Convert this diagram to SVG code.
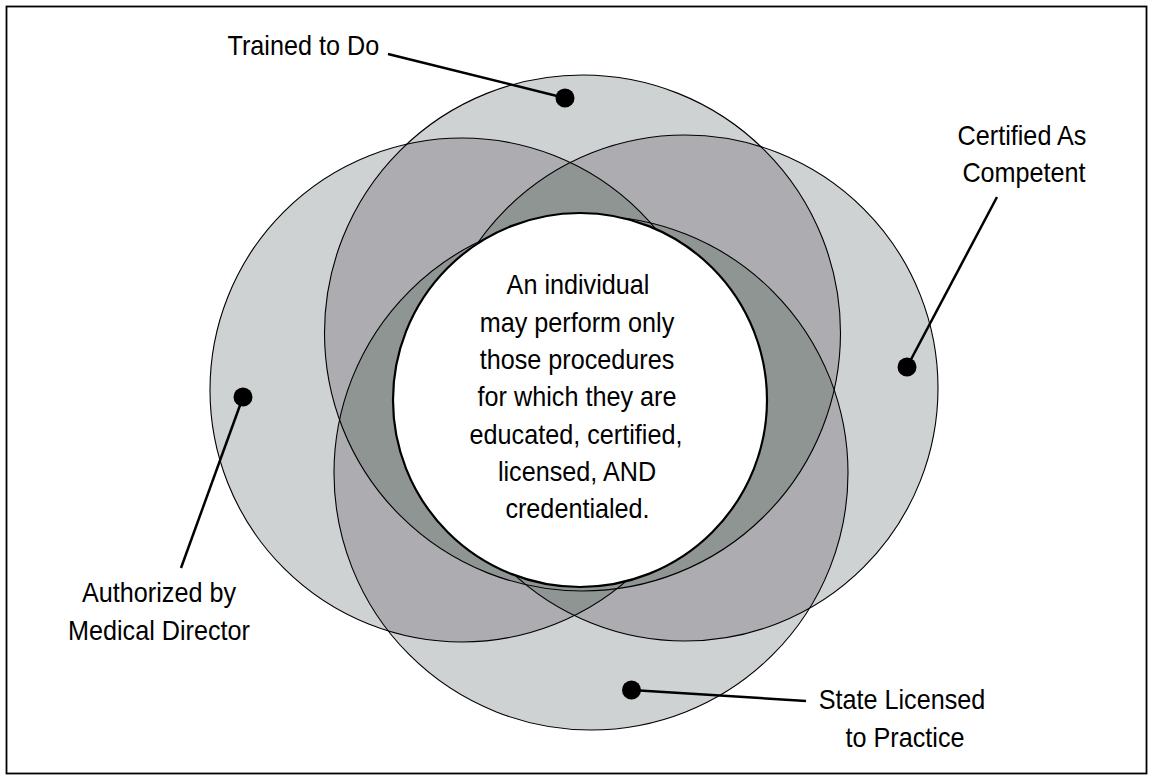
<svg xmlns="http://www.w3.org/2000/svg" width="1153" height="780" viewBox="0 0 1153 780">
<style>
.c1{fill:#cfd2d3}
.c2{fill:#adacb0}
.c3{fill:#8f9593}
.ring{fill:none;stroke:#000;stroke-width:1.1}
.t{font-family:"Liberation Sans",Arial,Helvetica,sans-serif;font-size:28px;fill:#000;text-anchor:middle}
.lead{stroke:#000;stroke-width:2.5;fill:none;marker-end:url(#dot)}
</style>
<defs>
<clipPath id="cT"><circle cx="582.5" cy="333" r="258"/></clipPath>
<clipPath id="cL"><circle cx="462" cy="390" r="252"/></clipPath>
<clipPath id="cR"><circle cx="685" cy="388" r="253"/></clipPath>
<clipPath id="cB"><circle cx="591" cy="473" r="257"/></clipPath>
<marker id="dot" markerUnits="userSpaceOnUse" viewBox="-10 -10 20 20" refX="0" refY="0" markerWidth="20" markerHeight="20"><circle r="9.5" fill="#000"/></marker>
</defs>
<rect x="0" y="0" width="1153" height="780" fill="#fff"/>
<rect x="6.5" y="6.5" width="1140" height="767" fill="none" stroke="#000" stroke-width="1.8"/>

<g id="fills">
<circle class="c1" cx="582.5" cy="333" r="258"/>
<circle class="c1" cx="462" cy="390" r="252"/>
<circle class="c1" cx="685" cy="388" r="253"/>
<circle class="c1" cx="591" cy="473" r="257"/>
</g>
<g id="overlaps2">
<circle class="c2" cx="462" cy="390" r="252" clip-path="url(#cT)"/>
<circle class="c2" cx="685" cy="388" r="253" clip-path="url(#cT)"/>
<circle class="c2" cx="591" cy="473" r="257" clip-path="url(#cT)"/>
<circle class="c2" cx="685" cy="388" r="253" clip-path="url(#cL)"/>
<circle class="c2" cx="591" cy="473" r="257" clip-path="url(#cL)"/>
<circle class="c2" cx="591" cy="473" r="257" clip-path="url(#cR)"/>
</g>
<g id="overlaps3">
<g clip-path="url(#cT)"><circle class="c3" cx="685" cy="388" r="253" clip-path="url(#cL)"/></g>
<g clip-path="url(#cT)"><circle class="c3" cx="591" cy="473" r="257" clip-path="url(#cL)"/></g>
<g clip-path="url(#cT)"><circle class="c3" cx="591" cy="473" r="257" clip-path="url(#cR)"/></g>
<g clip-path="url(#cL)"><circle class="c3" cx="591" cy="473" r="257" clip-path="url(#cR)"/></g>
</g>

<g id="node-trained"><circle class="ring" cx="582.5" cy="333" r="258"/>
<text class="t" transform="translate(303.3,55) scale(0.9,1)">Trained to Do</text></g>
<g id="node-authorized"><circle class="ring" cx="462" cy="390" r="252"/>
<text class="t" transform="translate(159,601.7) scale(0.9,1)">Authorized by</text>
<text class="t" transform="translate(159,640) scale(0.9,1)">Medical Director</text></g>
<g id="node-certified"><circle class="ring" cx="685" cy="388" r="253"/>
<text class="t" transform="translate(1022,145) scale(0.9,1)">Certified As</text>
<text class="t" transform="translate(1024,182) scale(0.9,1)">Competent</text></g>
<g id="node-licensed"><circle class="ring" cx="591" cy="473" r="257"/>
<text class="t" transform="translate(902,709.3) scale(0.9,1)">State Licensed</text>
<text class="t" transform="translate(905,746.7) scale(0.9,1)">to Practice</text></g>

<g id="node-center">
<circle cx="580" cy="400" r="187" fill="#fff" stroke="#000" stroke-width="2.2"/>
<text class="t" transform="translate(578,294.3) scale(0.9,1)">An individual</text>
<text class="t" transform="translate(577,331.6) scale(0.9,1)">may perform only</text>
<text class="t" transform="translate(577,368.9) scale(0.9,1)">those procedures</text>
<text class="t" transform="translate(577,406.2) scale(0.9,1)">for which they are</text>
<text class="t" transform="translate(576,443.5) scale(0.9,1)">educated, certified,</text>
<text class="t" transform="translate(577,480.8) scale(0.9,1)">licensed, AND</text>
<text class="t" transform="translate(577.5,518.1) scale(0.9,1)">credentialed.</text>
</g>

<g id="connectors">
<line class="lead" x1="388" y1="54" x2="565" y2="98"/>
<line class="lead" x1="997" y1="197" x2="907" y2="367"/>
<line class="lead" x1="181" y1="568" x2="243" y2="397"/>
<line class="lead" x1="806" y1="701" x2="631.5" y2="690"/>
</g>
</svg>
